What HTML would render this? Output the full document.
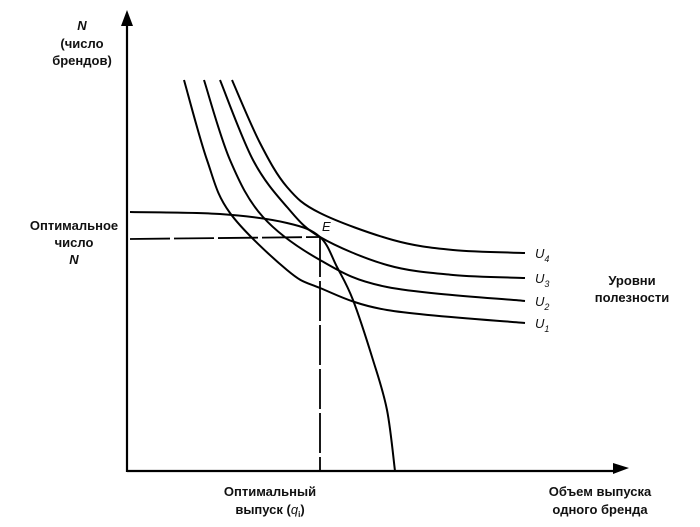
<!DOCTYPE html>
<html><head><meta charset="utf-8"><style>
html,body{margin:0;padding:0;background:#fff;}
svg{display:block;}
text{font-family:"Liberation Sans",sans-serif;font-size:13px;fill:#111;font-weight:bold;}
.it{font-style:italic;font-weight:normal;}
</style></head><body>
<svg id="chart" width="700" height="527" viewBox="0 0 700 527">
<g stroke="#000" fill="none" stroke-width="2" id="plot"></g>
<line x1="127" y1="472" x2="127" y2="22" stroke="#000" stroke-width="2.2"/>
<polygon points="127,10 121,26 133,26" fill="#000"/>
<line x1="127" y1="471" x2="616" y2="471" stroke="#000" stroke-width="2.2"/>
<polygon points="629,468 613,463 613,474" fill="#000"/>
<g>
<text x="82" y="30" text-anchor="middle" class="it" style="font-weight:bold">N</text>
<text x="82" y="48" text-anchor="middle">(число</text>
<text x="82" y="65" text-anchor="middle">брендов)</text>
</g>
<g>
<text x="74" y="230" text-anchor="middle">Оптимальное</text>
<text x="74" y="247" text-anchor="middle">число</text>
<text x="74" y="264" text-anchor="middle" class="it" style="font-weight:bold">N</text>
</g>
<g>
<text x="270" y="496" text-anchor="middle">Оптимальный</text>
<text x="270" y="514" text-anchor="middle">выпуск (<tspan class="it">q</tspan><tspan font-size="8" dy="3">i</tspan><tspan dy="-3">)</tspan></text>
</g>
<g>
<text x="600" y="496" text-anchor="middle">Объем выпуска</text>
<text x="600" y="514" text-anchor="middle">одного бренда</text>
</g>
<g>
<text x="632" y="285" text-anchor="middle">Уровни</text>
<text x="632" y="302" text-anchor="middle">полезности</text>
</g>
<text x="322" y="231" class="it">E</text>
<g id="labels"></g>
</svg>
<script>
// data units: q = output per brand, n = number of brands
const u1 = [[54,392],[77,312],[100,259],[157,202],[190,184],[257,162],[395,149]];
const u2 = [[74,392],[100,312],[133,255],[190,212],[257,185],[395,171]];
const u3 = [[90,392],[123,312],[157,265],[190,235],[257,207],[323,197],[395,194]];
const u4 = [[102,392],[130,329],[157,285],[190,259],[263,232],[323,222],[395,219]];
const frontier = [[0,260],[90,258],[157,249],[190,235],[207,205],[223,172],[243,112],[257,62],[265,1]];
const eq = [190,235];
function sx(q){return 130+q;}
function sy(n){return 472-n;}
function path(pts){
  const p=pts.map(d=>[sx(d[0]),sy(d[1])]);
  let s="M"+p[0][0]+","+p[0][1];
  for(let i=0;i<p.length-1;i++){
    const p0=p[i-1]||p[i],p1=p[i],p2=p[i+1],p3=p[i+2]||p2;
    const c1=[p1[0]+(p2[0]-p0[0])/6,p1[1]+(p2[1]-p0[1])/6];
    const c2=[p2[0]-(p3[0]-p1[0])/6,p2[1]-(p3[1]-p1[1])/6];
    s+=" C"+c1[0]+","+c1[1]+" "+c2[0]+","+c2[1]+" "+p2[0]+","+p2[1];
  }
  return s;
}
const g=document.getElementById('plot');
const lab=document.getElementById('labels');
const NS="http://www.w3.org/2000/svg";
[u1,u2,u3,u4].forEach((c,i)=>{
  const el=document.createElementNS(NS,'path');
  el.setAttribute('d',path(c));
  
  
  g.appendChild(el);
  const last=c[c.length-1];
  const t=document.createElementNS(NS,'text');
  t.setAttribute('x',sx(last[0])+10);
  t.setAttribute('y',sy(last[1])+5);
  t.setAttribute('class','it');
  
  
  t.appendChild(document.createTextNode('U'));
  const sub=document.createElementNS(NS,'tspan');
  sub.setAttribute('font-size','9');
  sub.setAttribute('dy','4');
  sub.textContent=String(i+1);
  t.appendChild(sub);
  lab.appendChild(t);
});
const f=document.createElementNS(NS,'path');
f.setAttribute('d',path(frontier));


g.appendChild(f);
const h=document.createElementNS(NS,'line');
h.setAttribute('x1',sx(0));h.setAttribute('y1',sy(eq[1]-2));
h.setAttribute('x2',sx(eq[0]));h.setAttribute('y2',sy(eq[1]));
h.setAttribute('stroke-dasharray','40 4');h.setAttribute('stroke-width','1.8');


g.appendChild(h);
const v=document.createElementNS(NS,'line');
v.setAttribute('x1',sx(eq[0]));v.setAttribute('y1',sy(eq[1]));
v.setAttribute('x2',sx(eq[0]));v.setAttribute('y2',sy(0));
v.setAttribute('stroke-dasharray','40 4');v.setAttribute('stroke-width','1.8');


g.appendChild(v);
</script>
</body></html>
